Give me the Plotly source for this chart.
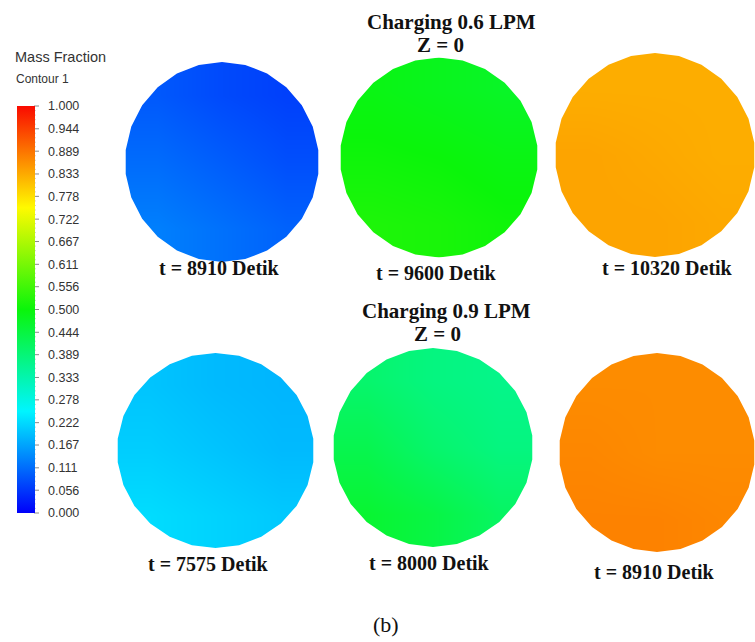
import numpy as np
import plotly.graph_objects as go

# ---------------- data ----------------
cb_vals = [0.000, 0.056, 0.111, 0.167, 0.222, 0.278, 0.333, 0.389, 0.444, 0.500,
           0.556, 0.611, 0.667, 0.722, 0.778, 0.833, 0.889, 0.944, 1.000]
cb_text = ["0.000", "0.056", "0.111", "0.167", "0.222", "0.278", "0.333", "0.389", "0.444",
           "0.500", "0.556", "0.611", "0.667", "0.722", "0.778", "0.833", "0.889", "0.944", "1.000"]

flow_rates = ["0.6", "0.9"]
times_06 = [8910, 9600, 10320]
times_09 = [7575, 8000, 8910]

# mass fraction read from each slice (3x3: rows top->bottom, cols left->right)
mf_06_8910 = [[0.090, 0.075, 0.065], [0.110, 0.095, 0.080], [0.130, 0.115, 0.100]]
mf_06_9600 = [[0.490, 0.480, 0.470], [0.505, 0.500, 0.490], [0.520, 0.515, 0.505]]
mf_06_10320 = [[0.830, 0.830, 0.830], [0.840, 0.835, 0.830], [0.840, 0.840, 0.835]]
mf_09_7575 = [[0.200, 0.190, 0.185], [0.210, 0.200, 0.190], [0.225, 0.215, 0.205]]
mf_09_8000 = [[0.400, 0.380, 0.370], [0.430, 0.400, 0.380], [0.460, 0.440, 0.410]]
mf_09_8910 = [[0.865, 0.865, 0.865], [0.870, 0.865, 0.865], [0.875, 0.875, 0.870]]

# ---------------- layout (pixel positions) ----------------
W, H = 755, 642
slices = [
    # (grid, cx, cy, rx, ry, label, label_x, label_y)
    (mf_06_8910, 222, 162, 97, 100, times_06[0], 219, 268),
    (mf_06_9600, 439, 157.5, 99, 100, times_06[1], 436, 273),
    (mf_06_10320, 655, 155, 100, 102, times_06[2], 667, 268),
    (mf_09_7575, 215.5, 450.5, 98.5, 97.5, times_09[0], 208, 564),
    (mf_09_8000, 433, 447.5, 100, 99.5, times_09[1], 429, 563),
    (mf_09_8910, 657, 452.5, 98, 99.5, times_09[2], 654, 572),
]
NSIDES = 26

fig = go.Figure()
shapes = []
annotations = []
serif = "Liberation Serif"
sans = "Liberation Sans"

for grid, cx, cy, rx, ry, t, lx, ly in slices:
    xe = np.linspace(cx - rx, cx + rx, 4)
    ye = np.linspace(cy - ry, cy + ry, 4)
    fig.add_trace(go.Heatmap(z=grid, x=xe, y=ye, zsmooth="best",
                             coloraxis="coloraxis", hoverinfo="skip"))
    ang = np.linspace(0, 2 * np.pi, NSIDES, endpoint=False) - np.pi / 2
    px = cx + rx * np.cos(ang)
    py = cy + ry * np.sin(ang)
    x0, x1, y0, y1 = cx - rx - 1.5, cx + rx + 1.5, cy - ry - 1.5, cy + ry + 1.5
    path = f"M{x0},{y0} L{x1},{y0} L{x1},{y1} L{x0},{y1} Z "
    path += "M" + " L".join(f"{a:.2f},{b:.2f}" for a, b in zip(px, py)) + " Z"
    shapes.append(dict(type="path", path=path, xref="x", yref="y",
                       fillcolor="white", line=dict(width=0), fillrule="evenodd",
                       layer="above"))
    annotations.append(dict(x=lx, y=ly, xref="x", yref="y", text=f"t = {t} Detik",
                            showarrow=False, xanchor="center", yanchor="middle",
                            font=dict(family=serif, size=20, color="#111", weight="bold")))

# section titles
for rate, (tx, ty), (zx, zy) in zip(flow_rates, [(451, 22), (446, 311)], [(440, 45), (437, 334)]):
    annotations.append(dict(x=tx, y=ty, xref="x", yref="y", text=f"Charging {rate} LPM",
                            showarrow=False, xanchor="center", yanchor="middle",
                            font=dict(family=serif, size=21, color="#111", weight="bold")))
    annotations.append(dict(x=zx, y=zy, xref="x", yref="y", text="Z = 0",
                            showarrow=False, xanchor="center", yanchor="middle",
                            font=dict(family=serif, size=21, color="#111", weight="bold")))

annotations.append(dict(x=13, y=57, xref="x", yref="y", text="Mass Fraction",
                        showarrow=False, xanchor="left", yanchor="middle",
                        font=dict(family=sans, size=14.5, color="#333")))
annotations.append(dict(x=14, y=79, xref="x", yref="y", text="Contour 1",
                        showarrow=False, xanchor="left", yanchor="middle",
                        font=dict(family=sans, size=12, color="#333")))
annotations.append(dict(x=386, y=624, xref="x", yref="y", text="(b)",
                        showarrow=False, xanchor="center", yanchor="middle",
                        font=dict(family=serif, size=22, color="#111")))

# colour bar geometry
cb_top, cb_bot = 106, 513
cb_left, cb_th = 17, 18
cb_len = cb_bot - cb_top

# visible tick marks at the colour bar's right edge
for i, v in enumerate(cb_vals):
    yv = cb_top + (1 - v) * cb_len
    shapes.append(dict(type="line", xref="x", yref="y",
                       x0=cb_left + cb_th - 1, x1=cb_left + cb_th + 4, y0=yv, y1=yv,
                       line=dict(color="#8a8a8a", width=1), layer="above"))
    if i < len(cb_vals) - 1:
        v2 = cb_vals[i + 1]
        for k in range(1, 5):
            ym = cb_top + (1 - (v + (v2 - v) * k / 5)) * cb_len
            shapes.append(dict(type="line", xref="x", yref="y",
                               x0=cb_left + cb_th - 2, x1=cb_left + cb_th + 1, y0=ym, y1=ym,
                               line=dict(color="rgba(200,200,200,0.8)", width=1), layer="above"))

fig.update_layout(
    width=W, height=H,
    margin=dict(l=0, r=0, t=0, b=0),
    paper_bgcolor="white", plot_bgcolor="white",
    xaxis=dict(range=[0, W], visible=False, fixedrange=True),
    yaxis=dict(range=[H, 0], visible=False, fixedrange=True),
    showlegend=False,
    shapes=shapes,
    annotations=annotations,
    coloraxis=dict(
        cmin=0, cmax=1,
        colorscale=[[0, "rgb(0,0,250)"], [0.25, "rgb(0,245,255)"], [0.5, "rgb(10,245,10)"],
                    [0.75, "rgb(255,250,0)"], [1, "rgb(250,10,0)"]],
        colorbar=dict(
            x=cb_left / W, xanchor="left", xpad=0, ypad=0,
            y=1 - cb_top / H, yanchor="top",
            len=cb_len, lenmode="pixels",
            thickness=cb_th, thicknessmode="pixels",
            outlinewidth=0,
            tickvals=cb_vals, ticktext=cb_text,
            ticks="outside", ticklen=11, tickcolor="rgba(0,0,0,0)", tickwidth=1,
            tickfont=dict(family=sans, size=12.5, color="#333"),
        ),
    ),
)

fig.write_html("out.html", config={"displayModeBar": False},
               post_script="document.body.style.margin='0';document.body.style.padding='0';")
